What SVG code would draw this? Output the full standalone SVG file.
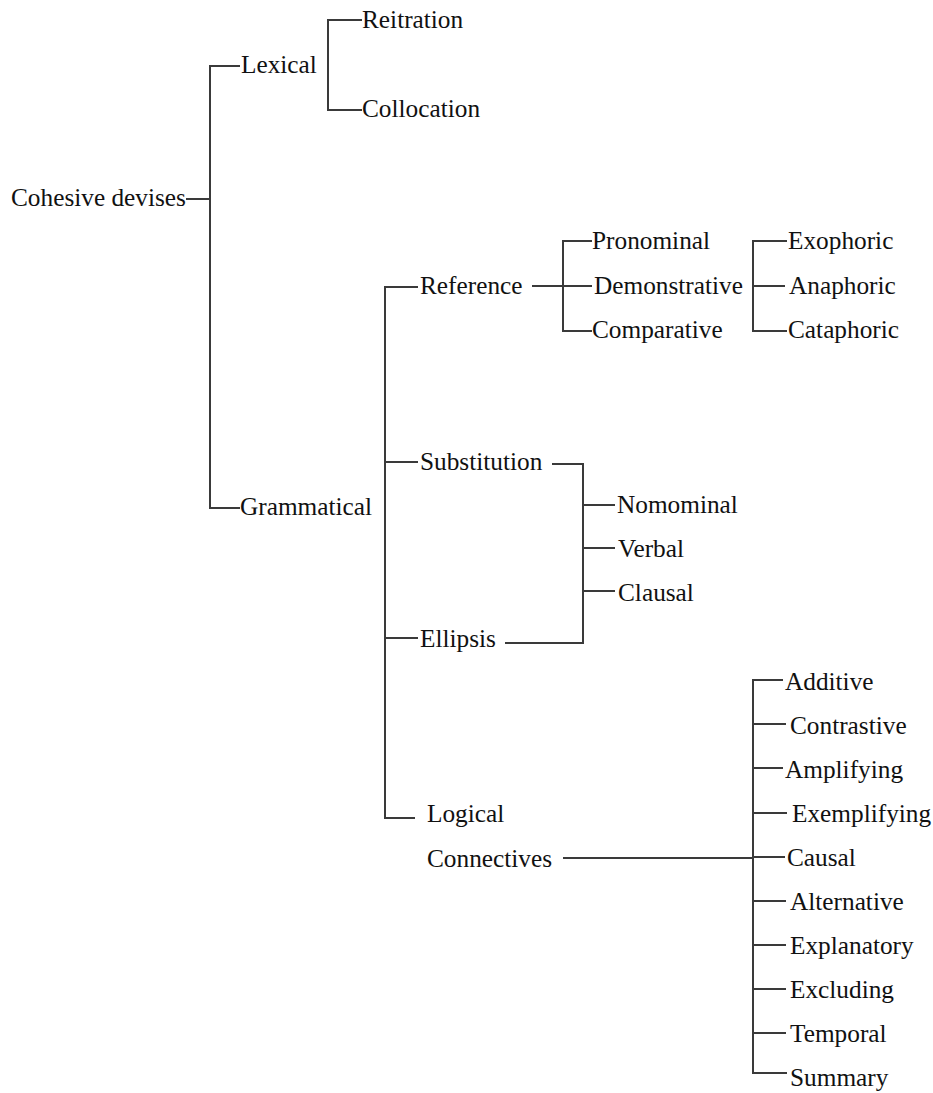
<svg xmlns="http://www.w3.org/2000/svg" width="933" height="1093" viewBox="0 0 933 1093">
<style>
text{font-family:"Liberation Serif","Times New Roman",serif;font-size:25.3px;fill:#111}
.c line,.c path{stroke:#3a3a3a;stroke-width:2;fill:none}
</style>
<rect width="933" height="1093" fill="#fff"/>
<g class="c" id="connectors">
<path d="M186 199H210M240 66H210V508H240"/>
<path d="M362 20H328V110H362M328 20V110"/>
<path d="M418 287H385V818H415M385 462H418M385 638H418"/>
<path d="M532 286H563M592 241H563V331H592M563 286H592"/>
<path d="M753 286H785M787 241H753V331H787"/>
<path d="M552 464H583V643H505M583 505H615M583 548H615M583 591H615"/>
<path d="M563 858H753M783 680H753V1073H787M753 724H786M753 768H783M753 813H787M753 857H785M753 901H786M753 945H786M753 989H786M753 1033H786"/>
</g>
<g id="n-root"><text x="11" y="206">Cohesive devises</text></g>
<g id="n-lexical"><text x="241" y="73">Lexical</text></g>
<g id="n-reitration"><text x="362" y="28">Reitration</text></g>
<g id="n-collocation"><text x="362" y="117">Collocation</text></g>
<g id="n-grammatical"><text x="240" y="515">Grammatical</text></g>
<g id="n-reference"><text x="420" y="294">Reference</text></g>
<g id="n-pronominal"><text x="592" y="249">Pronominal</text></g>
<g id="n-demonstrative"><text x="594" y="294">Demonstrative</text></g>
<g id="n-comparative"><text x="592" y="338">Comparative</text></g>
<g id="n-exophoric"><text x="788" y="249">Exophoric</text></g>
<g id="n-anaphoric"><text x="789" y="294">Anaphoric</text></g>
<g id="n-cataphoric"><text x="788" y="338">Cataphoric</text></g>
<g id="n-substitution"><text x="420" y="470">Substitution</text></g>
<g id="n-ellipsis"><text x="420" y="647">Ellipsis</text></g>
<g id="n-nomominal"><text x="617" y="513">Nomominal</text></g>
<g id="n-verbal"><text x="618" y="557">Verbal</text></g>
<g id="n-clausal"><text x="618" y="601">Clausal</text></g>
<g id="n-logical"><text x="427" y="822">Logical</text><text x="427" y="867">Connectives</text></g>
<g id="n-additive"><text x="785" y="690">Additive</text></g>
<g id="n-contrastive"><text x="790" y="734">Contrastive</text></g>
<g id="n-amplifying"><text x="785" y="778">Amplifying</text></g>
<g id="n-exemplifying"><text x="792" y="822">Exemplifying</text></g>
<g id="n-causal"><text x="787" y="866">Causal</text></g>
<g id="n-alternative"><text x="790" y="910">Alternative</text></g>
<g id="n-explanatory"><text x="790" y="954">Explanatory</text></g>
<g id="n-excluding"><text x="790" y="998">Excluding</text></g>
<g id="n-temporal"><text x="790" y="1042">Temporal</text></g>
<g id="n-summary"><text x="790" y="1086">Summary</text></g>
</svg>
